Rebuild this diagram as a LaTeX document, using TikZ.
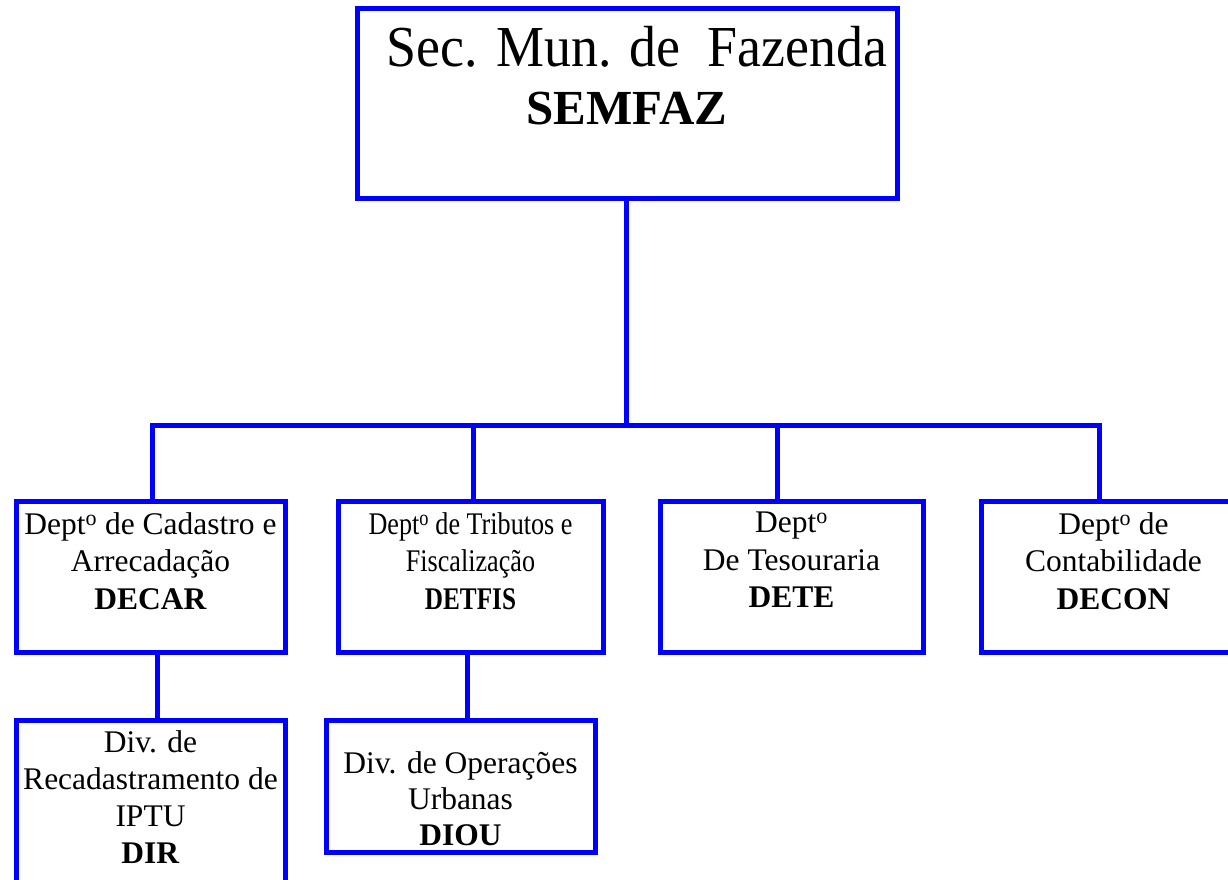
\documentclass[tikz,border=0pt]{standalone}
\usepackage{fontspec}
\setmainfont{Liberation Serif}
\usepackage{graphicx}
\usetikzlibrary{positioning}

\definecolor{orgblue}{RGB}{0,0,255}

\newcommand{\deptfont}{\fontsize{31.5}{37.5}\selectfont}
\newcommand{\narrowtxt}[1]{\scalebox{0.83}[1]{#1}}

\tikzset{
  orgbox/.style={draw=orgblue, line width=5pt, inner sep=0pt},
  orgtext/.style={inner sep=0pt, align=center, font=\deptfont},
  link/.style={draw=orgblue, line width=5pt},
}

\begin{document}
\begin{tikzpicture}[x=1pt, y=-1pt]
  \useasboundingbox (0,0) rectangle (1228,880);

  % boxes
  \node [orgbox, minimum width=540pt, minimum height=189pt] (semfaz) at (627,103.5) {};
  \node [orgbox, minimum width=269pt, minimum height=151pt] (decar) at (150.5,576.5) {};
  \node [orgbox, minimum width=265pt, minimum height=151pt] (detfis) at (470.5,576.5) {};
  \node [orgbox, minimum width=263pt, minimum height=151pt] (dete) at (791.5,576.5) {};
  \node [orgbox, minimum width=265pt, minimum height=151pt] (decon) at (1113.5,576.5) {};
  \node [orgbox, minimum width=269pt, minimum height=180pt] (dir) at (150.5,810) {};
  \node [orgbox, minimum width=269pt, minimum height=132pt] (diou) at (460.5,786) {};

  % texts
  \node [orgtext, font=\fontsize{58}{58}\selectfont, below=20pt of semfaz.north, xshift=10pt] (semfaz-txt)
    {\scalebox{0.93}[1]{Sec. Mun. de\ \ Fazenda}};
  \node [orgtext, font=\fontsize{49}{49}\selectfont\bfseries, below=85pt of semfaz.north] (semfaz-abbr)
    {SEMFAZ};
  \node [orgtext, below=13.5pt of decar.north] (decar-txt)
    {Dept\textsuperscript{o} de Cadastro e\\Arrecadação\\\textbf{DECAR}};
  \node [orgtext, below=13.5pt of detfis.north] (detfis-txt)
    {\narrowtxt{Dept\textsuperscript{o} de Tributos e}\\\narrowtxt{Fiscalização}\\\scalebox{0.8}[1]{\textbf{DETFIS}}};
  \node [orgtext, below=13.5pt of dete.north] (dete-txt)
    {Dept\textsuperscript{o}\\De Tesouraria\\\textbf{DETE}};
  \node [orgtext, below=13.5pt of decon.north] (decon-txt)
    {Dept\textsuperscript{o} de\\Contabilidade\\\textbf{DECON}};
  \node [orgtext, font=\fontsize{31.5}{37}\selectfont, below=13pt of dir.north] (dir-txt)
    {Div. de\\Recadastramento de\\IPTU\\\textbf{DIR}};
  \node [orgtext, font=\fontsize{31.5}{36}\selectfont, below=34pt of diou.north] (diou-txt)
    {Div. de Operações\\Urbanas\\\textbf{DIOU}};

  % connectors
  \coordinate (bus) at (626,425);
  \coordinate (jdecar) at (152,425);
  \coordinate (jdetfis) at (473,425);
  \coordinate (jdete) at (777,425);
  \coordinate (jdecon) at (1099,425);
  \coordinate (jdir) at (157,0);
  \coordinate (jdiou) at (467,0);

  \draw [link] (bus |- semfaz.south) -- (bus);
  \draw [link] (jdecar |- decar.north) -- (jdecar) -- (jdecon) -- (jdecon |- decon.north);
  \draw [link] (jdetfis) -- (jdetfis |- detfis.north);
  \draw [link] (jdete) -- (jdete |- dete.north);
  \draw [link] (jdir |- decar.south) -- (jdir |- dir.north);
  \draw [link] (jdiou |- detfis.south) -- (jdiou |- diou.north);
\end{tikzpicture}
\end{document}
